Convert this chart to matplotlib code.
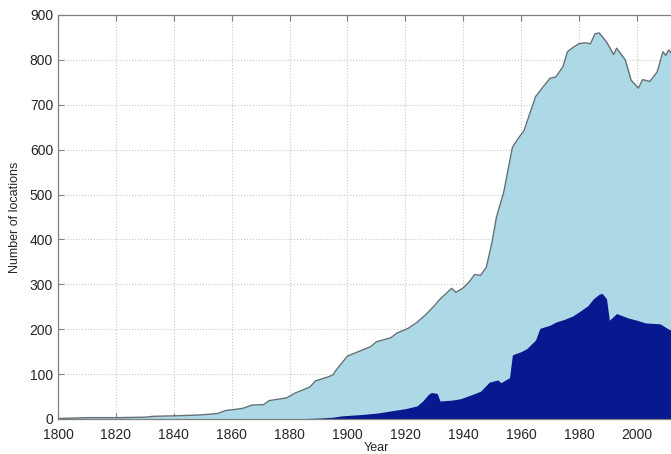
import numpy as np
import matplotlib.pyplot as plt

# all locations
years_all = [1800, 1805, 1810, 1820, 1830, 1833, 1840, 1845, 1849, 1855, 1858, 1862,
             1864, 1867, 1871, 1873, 1879, 1882, 1887, 1889, 1893, 1895, 1896, 1900,
             1903, 1908, 1910, 1915, 1917, 1921, 1924, 1927, 1930, 1932, 1936, 1937.5,
             1940, 1942, 1944, 1946, 1948, 1950, 1951.5, 1954, 1955.5, 1957, 1959,
             1961, 1963, 1965, 1967, 1970, 1972, 1974.5, 1976, 1978, 1980, 1982, 1984,
             1985.5, 1987, 1989.5, 1992, 1993, 1996, 1998, 2000.5, 2002, 2004.5, 2007,
             2009, 2010, 2011, 2012]
count_all = [1, 2, 3, 3, 4, 6, 7, 8, 9, 12, 19, 22,
             24, 31, 32, 41, 47, 58, 71, 85, 93, 98, 108, 140,
             148, 161, 172, 181, 191, 202, 215, 232, 252, 267, 291, 282,
             292, 305, 322, 320, 338, 395, 450, 505, 555, 605, 625,
             642, 680, 718, 735, 759, 762, 785, 818, 828, 836, 838, 836,
             858, 860, 840, 812, 826, 800, 755, 737, 756, 752, 773,
             818, 810, 822, 815]

# subset
years_sub = [1880, 1885, 1890, 1895, 1898, 1905, 1910, 1913, 1916, 1920, 1924, 1926,
             1928, 1929, 1931, 1932, 1936, 1939, 1942, 1944.5, 1946, 1949, 1952, 1953,
             1956, 1957, 1960, 1962, 1965, 1966.5, 1970, 1972, 1975, 1978, 1981, 1983,
             1985, 1987, 1988, 1989.5, 1990.5, 1993, 1997, 2000, 2003, 2008, 2011, 2012]
count_sub = [0, 1, 2, 4, 7, 10, 13, 16, 19, 23, 29, 40,
             55, 59, 57, 40, 42, 45, 52, 58, 62, 82, 87, 81,
             92, 143, 150, 157, 176, 202, 209, 216, 222, 230, 243, 252,
             268, 278, 280, 268, 220, 235, 225, 220, 214, 212, 200, 198]

plt.rcParams['font.family'] = ['Liberation Sans', 'DejaVu Sans']

fig = plt.figure(figsize=(6.71, 4.54), dpi=100)
# axes runs past the right edge of the figure, like the cropped original
ax = fig.add_axes([0.0864, 0.0771, 0.949, 0.8899])

ax.fill_between(years_all, count_all, 0, color='#add8e6', lw=0, zorder=2)
ax.plot(years_all, count_all, color='#626f74', lw=1.0, zorder=3)
ax.fill_between(years_sub, count_sub, 0, color='#08188e', lw=0, zorder=4)

ax.set_xlim(1800, 2020)
ax.set_ylim(0, 900)
ax.set_xticks(np.arange(1800, 2001, 20))
ax.set_yticks(np.arange(0, 901, 100))
ax.grid(True, linestyle=':', color='#c8c8c8', lw=0.8, zorder=1)
ax.tick_params(direction='in', length=4, color='#808080', labelsize=10,
               labelcolor='#262626', top=True, right=True)
ax.tick_params(axis='x', pad=6.5)
for s in ax.spines.values():
    s.set_color('#808080')
    s.set_linewidth(0.9)
    s.set_zorder(5)

ax.set_ylabel('Number of locations', fontsize=9, color='#262626', labelpad=6)
ax.set_xlabel('Year', fontsize=9, color='#262626', labelpad=0)

fig.savefig('out.png', dpi=100)
